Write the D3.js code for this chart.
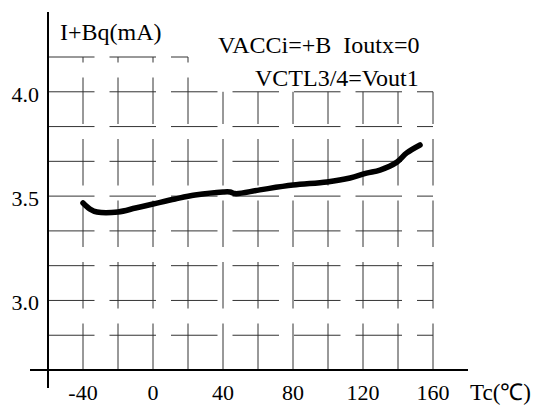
<!DOCTYPE html>
<html>
<head>
<meta charset="utf-8">
<script src="https://cdn.jsdelivr.net/npm/d3@7"></script>
<style>
  html, body { margin: 0; padding: 0; background: #fff; }
  svg { display: block; }
</style>
</head>
<body>
<svg id="chart" width="535" height="410"></svg>
<script>
// ---- data ----
const tempC = [-40, -36, -32, -20, -10, 0, 12.6, 24, 40, 44, 47, 61, 80, 99.4, 112.6, 122, 129.7, 139.4, 145, 152.6];
const currentMA = [3.467, 3.438, 3.424, 3.424, 3.443, 3.462, 3.486, 3.505, 3.52, 3.52, 3.512, 3.53, 3.553, 3.568, 3.587, 3.61, 3.625, 3.663, 3.707, 3.745];
const xTicks = [-40, 0, 40, 80, 120, 160];
const xGrid = [-40, -20, 0, 20, 40, 60, 80, 100, 120, 140, 160];
const yTicks = [3.0, 3.5, 4.0];
const yTickLabels = ["3.0", "3.5", "4.0"];
const yGrid = [2.8333, 3.0, 3.1667, 3.3333, 3.5, 3.6667, 3.8333, 4.0];
const yGridTop = 4.1667;
const yLabel = "I+Bq(mA)";
const xLabel = "Tc(\u2103)";
const note1 = "VACCi=+B  Ioutx=0";
const note2 = "VCTL3/4=Vout1";

// ---- scales ----
const x = d3.scaleLinear().domain([-60, 180]).range([48, 468]);
const y = d3.scaleLinear().domain([2.6667, 4.1667]).range([370, 57]);

const FONT = "Liberation Serif";
const svg = d3.select("#chart");
const gridColor = "#333";
const xRight = x(160);
const xTopEnd = x(20);

// horizontal grid lines
svg.append("g").selectAll("line").data(yGrid).join("line")
  .attr("x1", x(-60)).attr("x2", xRight)
  .attr("y1", d => y(d)).attr("y2", d => y(d))
  .attr("stroke", gridColor).attr("stroke-width", 1)
  .attr("stroke-dasharray", "46.5,15");
svg.append("line")
  .attr("x1", x(-60)).attr("x2", xTopEnd)
  .attr("y1", y(yGridTop)).attr("y2", y(yGridTop))
  .attr("stroke", gridColor).attr("stroke-width", 1)
  .attr("stroke-dasharray", "46.5,15");

// vertical grid lines (dash pattern starts from the x axis)
svg.append("g").selectAll("line").data(xGrid).join("line")
  .attr("x1", d => x(d)).attr("x2", d => x(d))
  .attr("y1", y(2.6667))
  .attr("y2", d => d <= 20 ? y(yGridTop) : y(4.0))
  .attr("stroke", gridColor).attr("stroke-width", 1)
  .attr("stroke-dasharray", "46.5,15");

// axes
svg.append("line").attr("x1", x(-60)).attr("x2", x(-60))
  .attr("y1", 12).attr("y2", 388).attr("stroke", "#000").attr("stroke-width", 2);
svg.append("line").attr("x1", 30).attr("x2", x(180))
  .attr("y1", y(2.6667)).attr("y2", y(2.6667)).attr("stroke", "#000").attr("stroke-width", 2);

// curve
const line = d3.line().x((d, i) => x(tempC[i])).y(d => y(d)).curve(d3.curveCatmullRom.alpha(0.5));
svg.append("path").datum(currentMA).attr("d", line)
  .attr("fill", "none").attr("stroke", "#000").attr("stroke-width", 5.5)
  .attr("stroke-linecap", "round").attr("stroke-linejoin", "round");

// tick labels
svg.append("g").selectAll("text").data(xTicks).join("text")
  .attr("x", d => x(d)).attr("y", 400)
  .attr("text-anchor", "middle").style("font-family", FONT).style("font-size", "22px")
  .text(d => d);
svg.append("g").selectAll("text").data(yTicks).join("text")
  .attr("x", 39).attr("y", d => y(d) + 10)
  .attr("text-anchor", "end").style("font-family", FONT).style("font-size", "22px")
  .text((d, i) => yTickLabels[i]);

// axis titles and notes
svg.append("text").attr("x", 470).attr("y", 400).style("font-family", FONT).style("font-size", "23px").text(xLabel);
svg.append("text").attr("x", 60).attr("y", 40).style("font-family", FONT).style("font-size", "24px").text(yLabel);
svg.append("text").attr("x", 218).attr("y", 53).style("font-family", FONT).style("font-size", "24px")
  .style("white-space", "pre").text(note1);
svg.append("text").attr("x", 255).attr("y", 86).style("font-family", FONT).style("font-size", "24px").text(note2);
</script>
</body>
</html>
